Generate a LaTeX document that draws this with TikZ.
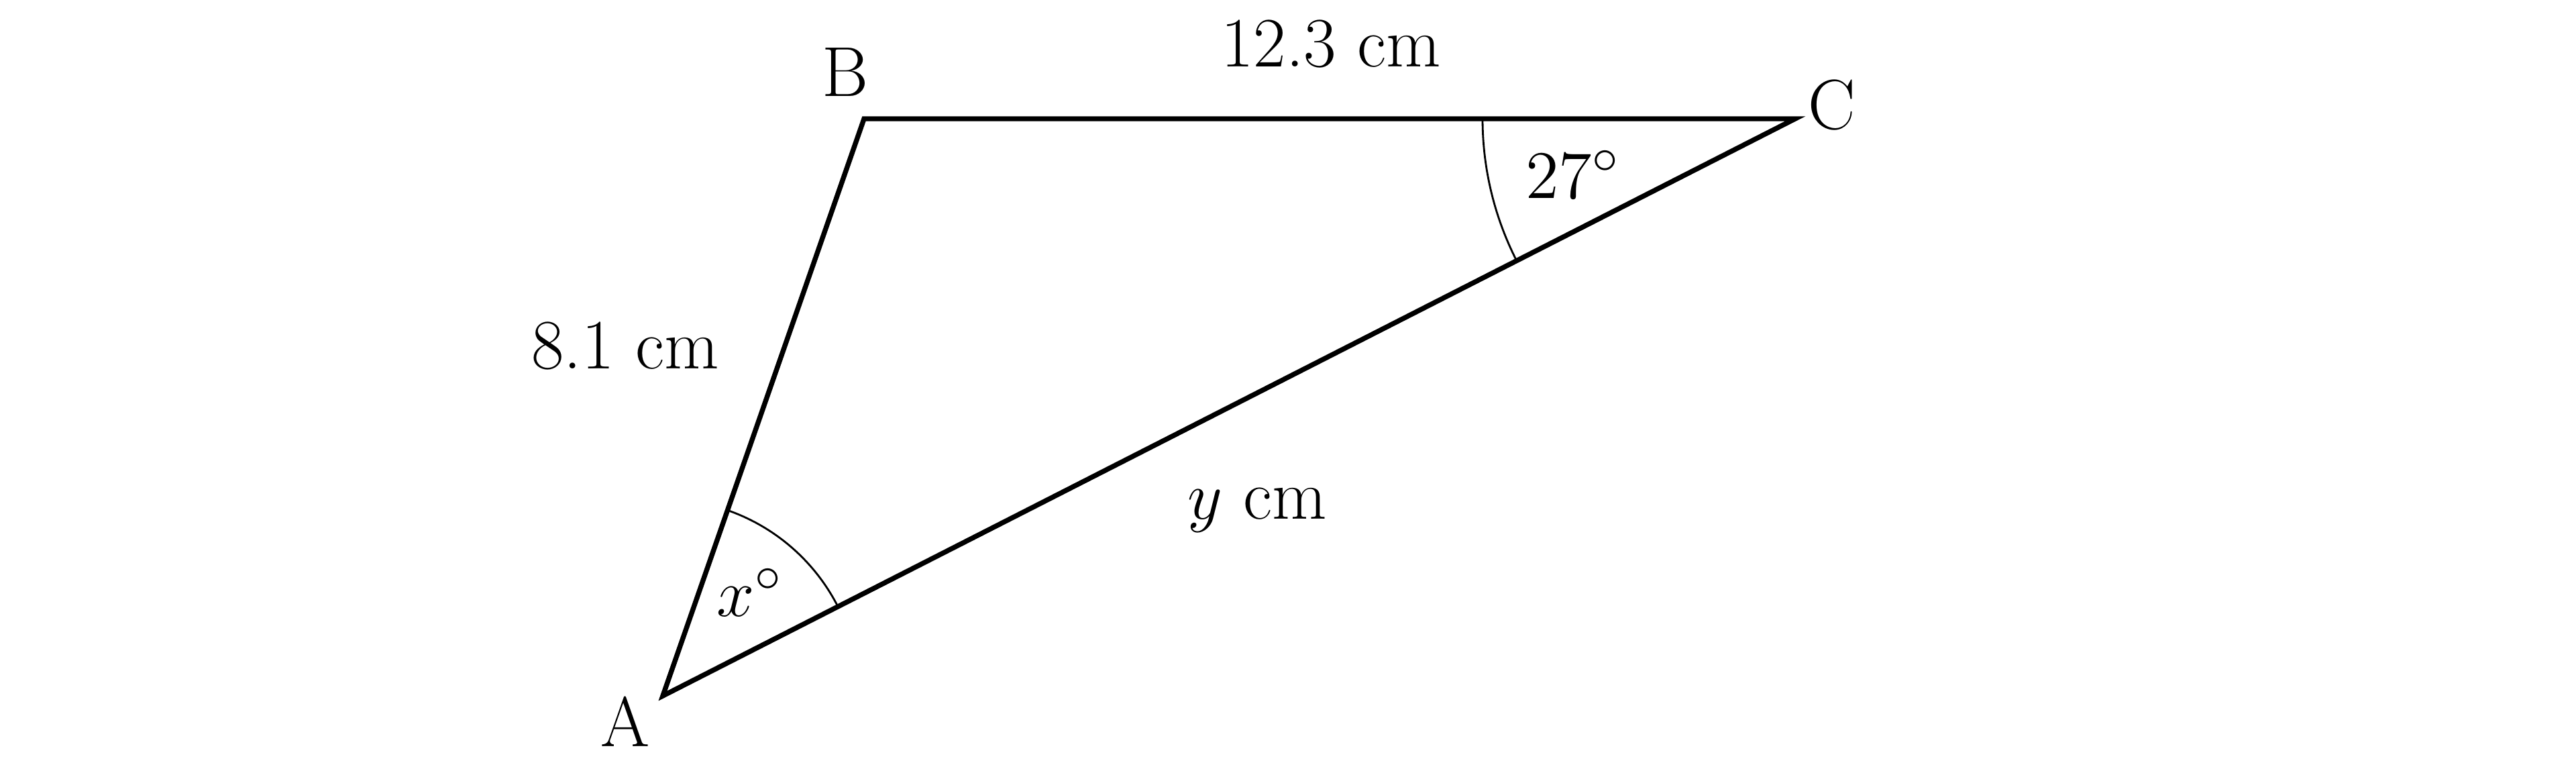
\documentclass[tikz,border=0pt]{standalone}
\usepackage{amsmath}
\usepackage{tikz}

\begin{document}
\begin{tikzpicture}[font=\fontsize{15}{18}\selectfont]
		\useasboundingbox (0,0) rectangle (19.2,5.71);
		\coordinate (A) at (4.94,0.525);
		\coordinate (B) at (6.44,4.825);
		\coordinate (C) at (13.38,4.825);
		%
		\draw[line width=1.05pt,line join=miter] (A) -- (B) -- (C) -- cycle;
		\draw[line width=0.4pt] (A) ++(27:1.465) arc[start angle=27,end angle=70.8,radius=1.465];
		\draw[line width=0.4pt] (C) ++(180:2.33) arc[start angle=180,end angle=207,radius=2.33];
		%
		\node[anchor=base] (lA) at (4.66,0.15) {A};
		\node[anchor=base] (lB) at (6.30,4.995) {B};
		\node[anchor=base] (lC) at (13.655,4.75) {C};
		\node[anchor=base] (BC) at (9.92,5.215) {12.3 cm};
		\node[anchor=base] (AB) at (4.66,2.965) {8.1 cm};
		\node[anchor=base] (AC) at (9.37,1.845) {$y$ cm};
		\node[anchor=base] (angA) at (5.59,1.12) {$x^\circ$};
		\node[anchor=base] (angC) at (11.725,4.235) {$27^\circ$};
\end{tikzpicture}
\end{document}
